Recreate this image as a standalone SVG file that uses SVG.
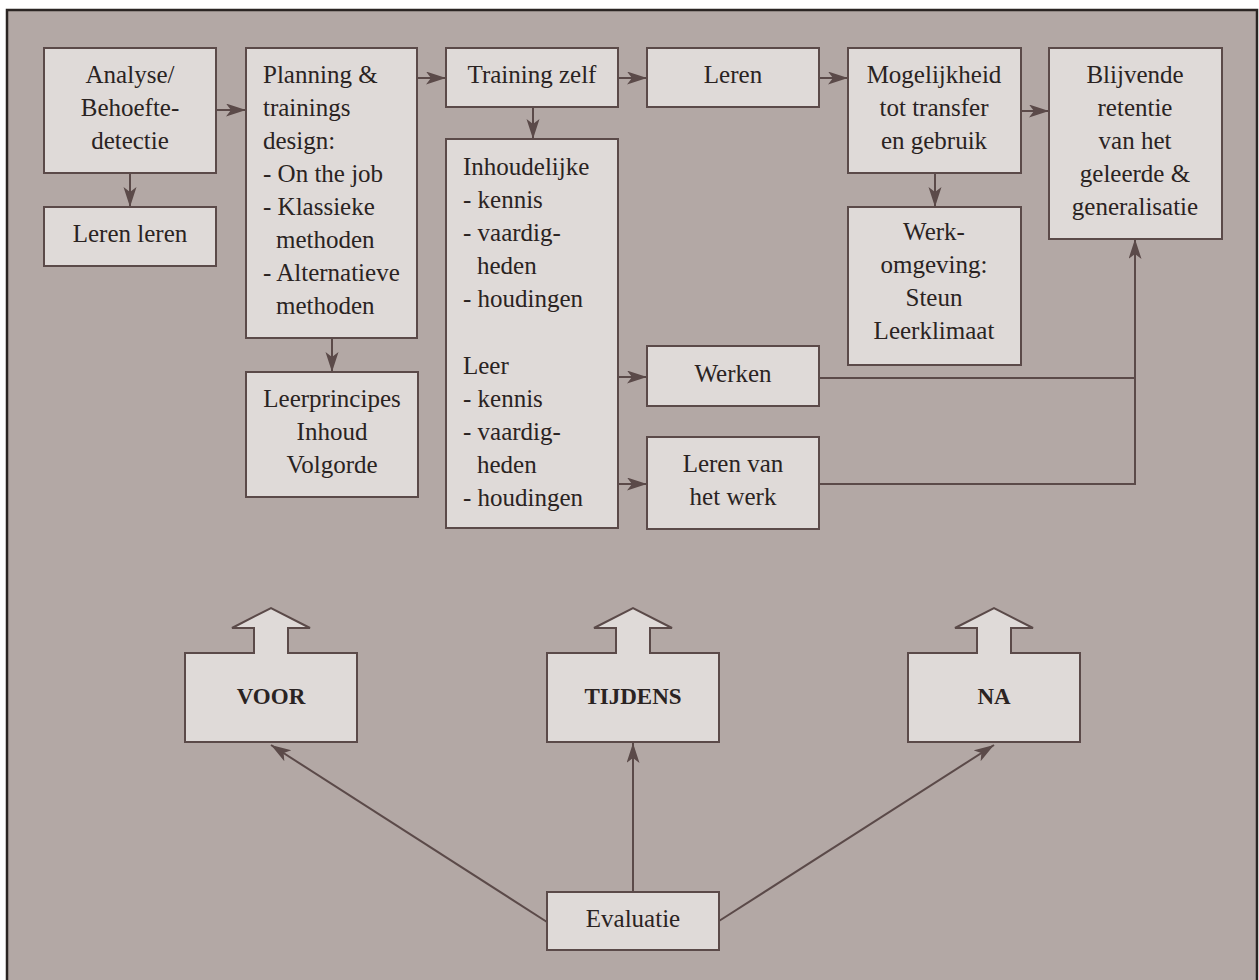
<svg xmlns="http://www.w3.org/2000/svg" width="1259" height="980" viewBox="0 0 1259 980">
<defs>
<style>
.bx{fill:#dfdad8;stroke:#5b4a49;stroke-width:2}
.t{font-family:"Liberation Serif","Times New Roman",serif;font-size:25px;fill:#2a2322}
.c{text-anchor:middle}
.b{font-weight:bold;font-size:23px}
.ln{fill:none;stroke:#5b4a49;stroke-width:2}
</style>
<marker id="ah" markerUnits="userSpaceOnUse" markerWidth="22" markerHeight="14" refX="20" refY="6.5" orient="auto">
<path d="M0,0 L20,6.5 L0,13 L5,6.5 Z" fill="#5b4a49"/>
</marker>
</defs>
<rect x="0" y="0" width="1259" height="980" fill="#ffffff"/>
<rect x="7" y="10" width="1250" height="975" fill="#b3a8a5" stroke="#2b2523" stroke-width="2.5"/>

<g id="connectors">
<line class="ln" x1="216" y1="110" x2="246" y2="110" marker-end="url(#ah)"/>
<line class="ln" x1="417" y1="78" x2="446" y2="78" marker-end="url(#ah)"/>
<line class="ln" x1="618" y1="78" x2="647" y2="78" marker-end="url(#ah)"/>
<line class="ln" x1="819" y1="78" x2="848" y2="78" marker-end="url(#ah)"/>
<line class="ln" x1="1021" y1="111" x2="1049" y2="111" marker-end="url(#ah)"/>
<line class="ln" x1="130" y1="173" x2="130" y2="207" marker-end="url(#ah)"/>
<line class="ln" x1="533" y1="107" x2="533" y2="139" marker-end="url(#ah)"/>
<line class="ln" x1="935" y1="173" x2="935" y2="207" marker-end="url(#ah)"/>
<line class="ln" x1="332" y1="338" x2="332" y2="372" marker-end="url(#ah)"/>
<line class="ln" x1="618" y1="377" x2="647" y2="377" marker-end="url(#ah)"/>
<line class="ln" x1="618" y1="484" x2="647" y2="484" marker-end="url(#ah)"/>
<polyline class="ln" points="819,378 1135,378"/>
<polyline class="ln" points="819,484 1135,484 1135,378"/>
<line class="ln" x1="1135" y1="378" x2="1135" y2="239" marker-end="url(#ah)"/>
<line class="ln" x1="633" y1="892" x2="633" y2="743" marker-end="url(#ah)"/>
<line class="ln" x1="547" y1="922" x2="271" y2="745" marker-end="url(#ah)"/>
<line class="ln" x1="719" y1="921" x2="994" y2="745" marker-end="url(#ah)"/>
</g>

<g id="analyse">
<rect class="bx" x="44" y="48" width="172" height="125"/>
<text class="t c" x="130" y="83">Analyse/</text>
<text class="t c" x="130" y="116">Behoefte-</text>
<text class="t c" x="130" y="149">detectie</text>
</g>
<g id="lerenleren">
<rect class="bx" x="44" y="207" width="172" height="59"/>
<text class="t c" x="130" y="242">Leren leren</text>
</g>
<g id="planning">
<rect class="bx" x="246" y="48" width="171" height="290"/>
<text class="t" x="263" y="83">Planning &amp;</text>
<text class="t" x="263" y="116">trainings</text>
<text class="t" x="263" y="149">design:</text>
<text class="t" x="263" y="182">- On the job</text>
<text class="t" x="263" y="215">- Klassieke</text>
<text class="t" x="276" y="248">methoden</text>
<text class="t" x="263" y="281">- Alternatieve</text>
<text class="t" x="276" y="314">methoden</text>
</g>
<g id="leerprincipes">
<rect class="bx" x="246" y="372" width="172" height="125"/>
<text class="t c" x="332" y="407">Leerprincipes</text>
<text class="t c" x="332" y="440">Inhoud</text>
<text class="t c" x="332" y="473">Volgorde</text>
</g>
<g id="training">
<rect class="bx" x="446" y="48" width="172" height="59"/>
<text class="t c" x="532" y="83">Training zelf</text>
</g>
<g id="inhoudelijke">
<rect class="bx" x="446" y="139" width="172" height="389"/>
<text class="t" x="463" y="175">Inhoudelijke</text>
<text class="t" x="463" y="208">- kennis</text>
<text class="t" x="463" y="241">- vaardig-</text>
<text class="t" x="477" y="274">heden</text>
<text class="t" x="463" y="307">- houdingen</text>
<text class="t" x="463" y="374">Leer</text>
<text class="t" x="463" y="407">- kennis</text>
<text class="t" x="463" y="440">- vaardig-</text>
<text class="t" x="477" y="473">heden</text>
<text class="t" x="463" y="506">- houdingen</text>
</g>
<g id="leren">
<rect class="bx" x="647" y="48" width="172" height="59"/>
<text class="t c" x="733" y="83">Leren</text>
</g>
<g id="werken">
<rect class="bx" x="647" y="346" width="172" height="60"/>
<text class="t c" x="733" y="382">Werken</text>
</g>
<g id="lerenvanwerk">
<rect class="bx" x="647" y="437" width="172" height="92"/>
<text class="t c" x="733" y="472">Leren van</text>
<text class="t c" x="733" y="505">het werk</text>
</g>
<g id="mogelijkheid">
<rect class="bx" x="848" y="48" width="173" height="125"/>
<text class="t c" x="934" y="83">Mogelijkheid</text>
<text class="t c" x="934" y="116">tot transfer</text>
<text class="t c" x="934" y="149">en gebruik</text>
</g>
<g id="werkomgeving">
<rect class="bx" x="848" y="207" width="173" height="158"/>
<text class="t c" x="934" y="240">Werk-</text>
<text class="t c" x="934" y="273">omgeving:</text>
<text class="t c" x="934" y="306">Steun</text>
<text class="t c" x="934" y="339">Leerklimaat</text>
</g>
<g id="blijvende">
<rect class="bx" x="1049" y="48" width="173" height="191"/>
<text class="t c" x="1135" y="83">Blijvende</text>
<text class="t c" x="1135" y="116">retentie</text>
<text class="t c" x="1135" y="149">van het</text>
<text class="t c" x="1135" y="182">geleerde &amp;</text>
<text class="t c" x="1135" y="215">generalisatie</text>
</g>

<g id="voor">
<path class="bx" d="M185,653 H254 V628 H232 L271,608 L310,628 H288 V653 H357 V742 H185 Z"/>
<text class="t c b" x="271" y="704">VOOR</text>
</g>
<g id="tijdens">
<path class="bx" d="M547,653 H616 V628 H594 L633,608 L672,628 H650 V653 H719 V742 H547 Z"/>
<text class="t c b" x="633" y="704">TIJDENS</text>
</g>
<g id="na">
<path class="bx" d="M908,653 H977 V628 H955 L994,608 L1033,628 H1011 V653 H1080 V742 H908 Z"/>
<text class="t c b" x="994" y="704">NA</text>
</g>
<g id="evaluatie">
<rect class="bx" x="547" y="892" width="172" height="58"/>
<text class="t c" x="633" y="927">Evaluatie</text>
</g>
</svg>
